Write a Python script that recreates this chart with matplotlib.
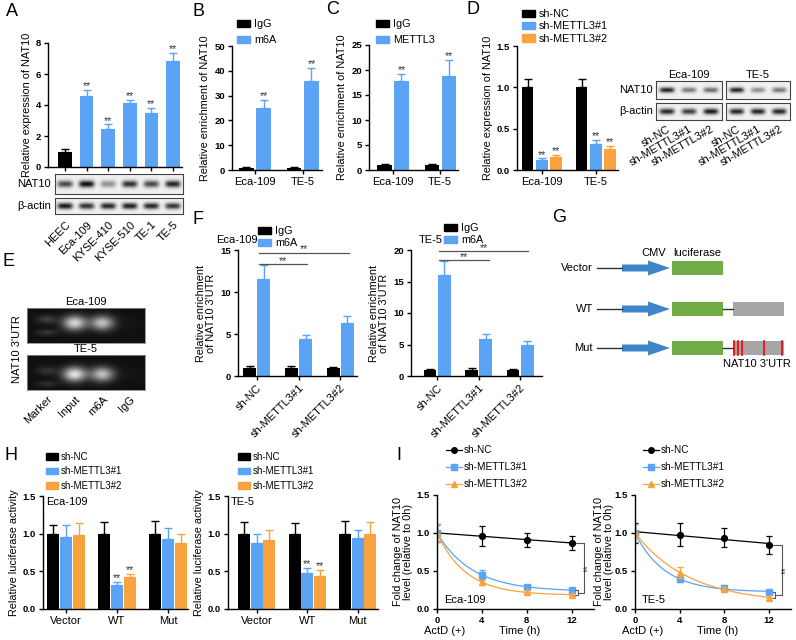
import numpy as np
import matplotlib
matplotlib.use('Agg')
import matplotlib.pyplot as plt
from matplotlib.patches import Rectangle, FancyArrow, Patch
from matplotlib.lines import Line2D
import matplotlib.transforms as mtransforms

plt.rcParams['font.family'] = ['Liberation Sans', 'DejaVu Sans']

W, H = 796, 640
fig = plt.figure(figsize=(W / 100, H / 100), dpi=100)

BLACK = '#000000'
BLUE = '#5BA3F5'
ORANGE = '#F9A33E'

# ---------------- data ----------------
# A
a_cells = ['HEEC', 'Eca-109', 'KYSE-410', 'KYSE-510', 'TE-1', 'TE-5']
a_vals = [1.0, 4.55, 2.45, 4.1, 3.5, 6.85]
a_err = [0.15, 0.45, 0.3, 0.25, 0.3, 0.5]
a_nat10_band = [0.7, 0.95, 0.4, 0.8, 0.7, 0.85]
a_actin_band = [0.9, 0.8, 0.85, 0.88, 0.85, 0.78]

# B / C
cells2 = ['Eca-109', 'TE-5']
b_igg = [1.0, 1.0]
b_igg_err = [0.15, 0.2]
b_m6a = [25.0, 36.0]
b_m6a_err = [3.2, 5.0]
c_igg = [1.0, 1.0]
c_igg_err = [0.15, 0.2]
c_mettl3 = [17.8, 18.8]
c_mettl3_err = [1.5, 3.2]

# D
sh_labels = ['sh-NC', 'sh-METTL3#1', 'sh-METTL3#2']
d_nc = [1.0, 1.0]
d_nc_err = [0.1, 0.1]
d_sh1 = [0.12, 0.32]
d_sh1_err = [0.02, 0.04]
d_sh2 = [0.16, 0.25]
d_sh2_err = [0.02, 0.04]
d_eca_nat10 = [0.85, 0.5, 0.55]
d_eca_actin = [0.85, 0.75, 0.9]
d_te5_nat10 = [0.85, 0.4, 0.5]
d_te5_actin = [0.85, 0.85, 0.85]

# E
e_lanes = ['Marker', 'Input', 'm6A', 'IgG']
e_eca_band = [0.2, 0.85, 0.75, 0.02]
e_te5_band = [0.16, 0.9, 0.75, 0.02]

# F
f_eca_igg = [1.0, 1.0, 1.0]
f_eca_igg_err = [0.2, 0.2, 0.1]
f_eca_m6a = [11.6, 4.35, 6.3]
f_eca_m6a_err = [1.6, 0.5, 0.8]
f_te5_igg = [1.0, 1.0, 1.0]
f_te5_igg_err = [0.15, 0.25, 0.1]
f_te5_m6a = [16.0, 5.9, 5.0]
f_te5_m6a_err = [2.2, 0.8, 0.55]

# G
g_constructs = ['Vector', 'WT', 'Mut']
g_has_utr = [False, True, True]
g_mut_sites = [0.02, 0.1, 0.18, 0.6, 0.96]

# H
h_constructs = ['Vector', 'WT', 'Mut']
h_eca_nc = [1.0, 1.0, 1.0]
h_eca_nc_err = [0.12, 0.15, 0.17]
h_eca_sh1 = [0.95, 0.32, 0.93]
h_eca_sh1_err = [0.16, 0.04, 0.15]
h_eca_sh2 = [0.98, 0.42, 0.88]
h_eca_sh2_err = [0.16, 0.05, 0.12]
h_te5_nc = [1.0, 1.0, 1.0]
h_te5_nc_err = [0.15, 0.14, 0.17]
h_te5_sh1 = [0.87, 0.48, 0.94]
h_te5_sh1_err = [0.13, 0.07, 0.11]
h_te5_sh2 = [0.92, 0.44, 1.0]
h_te5_sh2_err = [0.13, 0.08, 0.15]

# I
i_time = [0, 4, 8, 12]
i_eca_nc = [1.0, 0.96, 0.91, 0.87]
i_eca_nc_err = [0.12, 0.13, 0.09, 0.09]
i_eca_sh1 = [1.0, 0.45, 0.29, 0.25]
i_eca_sh1_err = [0.11, 0.06, 0.03, 0.02]
i_eca_sh2 = [1.0, 0.35, 0.23, 0.18]
i_eca_sh2_err = [0.12, 0.03, 0.02, 0.01]
i_te5_nc = [1.0, 0.98, 0.94, 0.84]
i_te5_nc_err = [0.13, 0.15, 0.13, 0.12]
i_te5_sh1 = [1.0, 0.39, 0.28, 0.22]
i_te5_sh1_err = [0.12, 0.04, 0.03, 0.02]
i_te5_sh2 = [1.0, 0.48, 0.26, 0.15]
i_te5_sh2_err = [0.12, 0.07, 0.03, 0.01]


# ---------------- helpers ----------------
def px_axes(x0, y0, x1, y1):
    return fig.add_axes([x0 / W, 1 - y1 / H, (x1 - x0) / W, (y1 - y0) / H])


def style_axes(ax, ytop, ystep, fmt='{:.0f}'):
    ax.set_ylim(0, ytop)
    ticks = np.arange(0, ytop + ystep / 2, ystep)
    ax.set_yticks(ticks)
    ax.set_yticklabels([fmt.format(t) for t in ticks], fontweight='bold', fontsize=6.8)
    for s in ['top', 'right']:
        ax.spines[s].set_visible(False)
    for s in ['left', 'bottom']:
        ax.spines[s].set_linewidth(1.0)
    ax.tick_params(axis='both', length=3, width=1.0, pad=2)
    ax.tick_params(axis='x', labelsize=8)


def bars(ax, xs, vals, errs, color, width):
    ax.bar(xs, vals, width, color=color, zorder=2)
    ax.errorbar(xs, vals, yerr=[np.zeros(len(vals)), errs], fmt='none', ecolor=color,
                elinewidth=1.0, capsize=3, capthick=1.0, zorder=1)


def stars(ax, xs, vals, errs, frac):
    top = ax.get_ylim()[1]
    for x, v, e in zip(xs, vals, errs):
        ax.text(x, v + e + frac * top, '**', ha='center', va='bottom', fontsize=7.5,
                color='#333333', linespacing=0.8)


def legend(x, y, handles, labels, fs, spacing, hl=1.2, hh=0.65, pad=0.35):
    fig.legend(handles, labels, loc='upper left', bbox_to_anchor=(x / W, 1 - y / H),
               bbox_transform=fig.transFigure, frameon=False, fontsize=fs,
               borderpad=0, borderaxespad=0, labelspacing=spacing,
               handlelength=hl, handleheight=hh, handletextpad=pad)


def band_image(intens, xr, yc=0.0, bh=0.4, lw=0.36, power=4):
    xs = np.linspace(xr[0], xr[1], 300)
    ys = np.linspace(1, -1, 80)
    X, Y = np.meshgrid(xs, ys)
    img = np.zeros_like(X)
    for i, v in enumerate(intens):
        img += v * np.exp(-np.abs((X - i) / lw) ** power) * np.exp(-((Y - yc) / bh) ** 2)
    return img


def panel(letter, x, y):
    fig.text(x / W, 1 - y / H, letter, fontsize=13, ha='left', va='center')


# ---------------- Panel A ----------------
axA = px_axes(48, 43, 182, 167)
xa = np.arange(len(a_cells))
style_axes(axA, 8, 2)
axA.set_xlim(-0.79, 5.42)
colA = [BLACK] + [BLUE] * 5
for x, v, e, c in zip(xa, a_vals, a_err, colA):
    bars(axA, [x], [v], [e], c, 0.63)
stars(axA, xa[1:], a_vals[1:], a_err[1:], -0.01)
axA.set_xticks(xa)
axA.set_xticklabels([])
axA.set_ylabel('Relative expression of NAT10', fontsize=7.8, labelpad=3)

xr = (-0.46, 5.46)
axAn = px_axes(55, 174, 183, 194)
axAn.imshow(band_image(a_nat10_band, xr, bh=0.35), cmap='gray_r', vmin=-0.06, vmax=1.0,
            extent=(xr[0], xr[1], -1, 1), aspect='auto')
axAb = px_axes(55, 198, 183, 214)
axAb.imshow(band_image(a_actin_band, xr, bh=0.4), cmap='gray_r', vmin=-0.06, vmax=1.0,
            extent=(xr[0], xr[1], -1, 1), aspect='auto')
for ax, lab in [(axAn, 'NAT10'), (axAb, 'β-actin')]:
    ax.set_yticks([])
    ax.set_xticks([])
    for s in ax.spines.values():
        s.set_linewidth(0.8)
        s.set_color('#444444')
    ax.text(-0.03, 0.5, lab, transform=ax.transAxes, ha='right', va='center', fontsize=8)
axAb.set_xticks(xa)
axAb.set_xticklabels(a_cells, rotation=45, ha='right', rotation_mode='anchor', fontsize=8)
axAb.tick_params(axis='x', length=0, pad=4)

# ---------------- Panel B ----------------
g2 = np.arange(2)
axB = px_axes(232, 46, 322, 170)
style_axes(axB, 50, 10)
axB.set_xlim(-0.48, 1.4)
bars(axB, g2 - 0.18, b_igg, b_igg_err, BLACK, 0.3)
bars(axB, g2 + 0.18, b_m6a, b_m6a_err, BLUE, 0.3)
stars(axB, g2 + 0.18, b_m6a, b_m6a_err, -0.01)
axB.set_xticks(g2)
axB.set_xticklabels(cells2)
axB.set_ylabel('Relative enrichment of NAT10', fontsize=7.8, labelpad=3)
legend(237, 19, [Patch(color=BLACK), Patch(color=BLUE)], ['IgG', 'm6A'], 7.8, 0.55)

# ---------------- Panel C ----------------
axC = px_axes(369, 45, 458, 170)
style_axes(axC, 25, 5)
axC.set_xlim(-0.51, 1.38)
bars(axC, g2 - 0.18, c_igg, c_igg_err, BLACK, 0.3)
bars(axC, g2 + 0.18, c_mettl3, c_mettl3_err, BLUE, 0.3)
stars(axC, g2 + 0.18, c_mettl3, c_mettl3_err, -0.01)
axC.set_xticks(g2)
axC.set_xticklabels(cells2)
axC.set_ylabel('Relative enrichment of NAT10', fontsize=7.8, labelpad=3)
legend(376, 19, [Patch(color=BLACK), Patch(color=BLUE)], ['IgG', 'METTL3'], 7.8, 0.55)

# ---------------- Panel D ----------------
axD = px_axes(517, 46, 618, 170)
style_axes(axD, 1.5, 0.5, '{:.1f}')
axD.set_xlim(-0.46, 1.41)
bars(axD, g2 - 0.26, d_nc, d_nc_err, BLACK, 0.21)
bars(axD, g2, d_sh1, d_sh1_err, BLUE, 0.21)
bars(axD, g2 + 0.26, d_sh2, d_sh2_err, ORANGE, 0.21)
stars(axD, g2, d_sh1, d_sh1_err, -0.01)
stars(axD, g2 + 0.26, d_sh2, d_sh2_err, -0.01)
axD.set_xticks(g2)
axD.set_xticklabels(cells2)
axD.set_ylabel('Relative expression of NAT10', fontsize=7.8, labelpad=3)
legend(522, 9, [Patch(color=BLACK), Patch(color=BLUE), Patch(color=ORANGE)], sh_labels, 7.8, 0.22)

xr3 = (-0.5, 2.5)
for (x0, x1, nat, act, title) in [(656, 722, d_eca_nat10, d_eca_actin, 'Eca-109'),
                                  (726, 790, d_te5_nat10, d_te5_actin, 'TE-5')]:
    axn = px_axes(x0, 81, x1, 99)
    axn.imshow(band_image(nat, xr3, bh=0.3, lw=0.34), cmap='gray_r', vmin=-0.06, vmax=1.0,
               extent=(xr3[0], xr3[1], -1, 1), aspect='auto')
    axb = px_axes(x0, 103, x1, 120)
    axb.imshow(band_image(act, xr3, bh=0.35, lw=0.34), cmap='gray_r', vmin=-0.06, vmax=1.0,
               extent=(xr3[0], xr3[1], -1, 1), aspect='auto')
    for ax in (axn, axb):
        ax.set_yticks([])
        ax.set_xticks([])
        for s in ax.spines.values():
            s.set_linewidth(0.8)
            s.set_color('#444444')
    axn.set_title(title, fontsize=8, pad=2)
    axb.set_xticks([0, 1, 2])
    axb.set_xticklabels(sh_labels, rotation=30, ha='right', rotation_mode='anchor', fontsize=8)
    axb.tick_params(axis='x', length=0, pad=3)
    if x0 == 656:
        axn.text(-0.05, 0.5, 'NAT10', transform=axn.transAxes, ha='right', va='center', fontsize=8)
        axb.text(-0.05, 0.5, 'β-actin', transform=axb.transAxes, ha='right', va='center', fontsize=8)

# ---------------- Panel E ----------------
xr4 = (-0.72, 3.54)
for (y0, y1, intens, title, yc) in [(308, 343, e_eca_band, 'Eca-109', 0.15),
                                    (355, 390, e_te5_band, 'TE-5', -0.1)]:
    ax = px_axes(27, y0, 145, y1)
    img = 0.07 + band_image(intens[1:], (xr4[0] - 1, xr4[1] - 1), yc=yc, bh=0.42, lw=0.42, power=2)
    img = img + band_image([intens[0]], xr4, yc=yc + 0.2, bh=0.25, lw=0.38, power=2)
    img = img + band_image([intens[0] * 0.8], xr4, yc=yc - 0.55, bh=0.18, lw=0.38, power=2)
    ax.imshow(img, cmap='gray', vmin=0, vmax=1.1, extent=(xr4[0], xr4[1], -1, 1), aspect='auto')
    ax.set_yticks([])
    ax.set_xticks([])
    for s in ax.spines.values():
        s.set_linewidth(0.6)
        s.set_color('#888888')
    ax.set_title(title, fontsize=8, pad=2)
    if title == 'TE-5':
        ax.set_xticks(range(4))
        ax.set_xticklabels(e_lanes, rotation=45, ha='right', rotation_mode='anchor', fontsize=8)
        ax.tick_params(axis='x', length=0, pad=3)
fig.text(17 / W, 1 - 349 / H, "NAT10 3'UTR", rotation=90, ha='center', va='center', fontsize=8)

# ---------------- Panel F ----------------
g3 = np.arange(3)


def f_panel(box, xlim, ytop, igg, igg_err, m6a, m6a_err, title, tx, sig):
    ax = px_axes(*box)
    style_axes(ax, ytop, 5)
    ax.set_xlim(*xlim)
    bars(ax, g3 - 0.17, igg, igg_err, BLACK, 0.31)
    bars(ax, g3 + 0.17, m6a, m6a_err, BLUE, 0.31)
    ax.set_xticks(g3)
    ax.set_xticklabels(sh_labels, rotation=45, ha='right', rotation_mode='anchor', fontsize=8)
    ax.set_ylabel("Relative enrichment\nof NAT10 3'UTR", fontsize=7.8, labelpad=3, linespacing=1.0)
    for (xe, yv) in sig:
        ax.plot([0.05, xe], [yv, yv], color='#555555', lw=0.9, clip_on=False)
        ax.text((0.05 + xe) / 2, yv - 0.012 * ytop, '**', ha='center', va='bottom', fontsize=7.5,
                color='#333333')
    ax.text(tx, 1.08, title, transform=ax.transAxes, fontsize=8, ha='left', va='center')
    return ax


f_panel((238, 250, 357, 376), (-0.45, 2.4), 15, f_eca_igg, f_eca_igg_err, f_eca_m6a,
        f_eca_m6a_err, 'Eca-109', -0.18, [(1.2, 13.3), (2.2, 14.7)])
legend(258, 226, [Patch(color=BLACK), Patch(color=BLUE)], ['IgG', 'm6A'], 7.8, 0.2)
f_panel((411, 250, 542, 376), (-0.63, 2.53), 20, f_te5_igg, f_te5_igg_err, f_te5_m6a,
        f_te5_m6a_err, 'TE-5', 0.06, [(1.25, 18.4), (2.2, 19.8)])
legend(444, 223, [Patch(color=BLACK), Patch(color=BLUE)], ['IgG', 'm6A'], 7.8, 0.2)

# ---------------- Panel G ----------------
axG = px_axes(560, 235, 796, 380)
axG.set_xlim(560, 796)
axG.set_ylim(380, 235)
axG.axis('off')
g_y = [268, 309, 348]
for name, y, utr in zip(g_constructs, g_y, g_has_utr):
    axG.text(593, y, name, ha='right', va='center', fontsize=8)
    axG.plot([597, 622], [y, y], color='#333333', lw=1.0)
    axG.add_patch(FancyArrow(622, y, 48, 0, width=7, head_width=15, head_length=22,
                             length_includes_head=True, color='#3F86C8', lw=0))
    axG.add_patch(Rectangle((672, y - 7), 51, 14, color='#70AD47', lw=0))
    if utr:
        axG.plot([723, 733], [y, y], color='#333333', lw=1.0)
        axG.add_patch(Rectangle((733, y - 7), 51, 14, color='#A6A6A6', lw=0))
for s in g_mut_sites:
    axG.plot([733 + 51 * s, 733 + 51 * s], [g_y[2] - 7, g_y[2] + 7], color='#FF0000', lw=1.2)
axG.text(654, 253, 'CMV', ha='center', va='center', fontsize=8)
axG.text(697, 253, 'luciferase', ha='center', va='center', fontsize=8)
axG.text(757, 364, "NAT10 3'UTR", ha='center', va='center', fontsize=8)


# ---------------- Panel H ----------------
def h_panel(box, xlim, nc, nc_err, s1, s1_err, s2, s2_err, title, ylab):
    ax = px_axes(*box)
    style_axes(ax, 1.5, 0.5, '{:.1f}')
    ax.set_xlim(*xlim)
    bars(ax, g3 - 0.25, nc, nc_err, BLACK, 0.24)
    bars(ax, g3, s1, s1_err, BLUE, 0.24)
    bars(ax, g3 + 0.25, s2, s2_err, ORANGE, 0.24)
    stars(ax, [1], [s1[1]], [s1_err[1]], -0.01)
    stars(ax, [1.25], [s2[1]], [s2_err[1]], -0.01)
    ax.set_xticks(g3)
    ax.set_xticklabels(h_constructs)
    ax.set_ylabel(ylab, fontsize=7.8, labelpad=3)
    ax.text(0.02, 0.95, title, transform=ax.transAxes, fontsize=8, ha='left', va='center')
    return ax


h_panel((43, 496, 188, 609), (-0.45, 2.39), h_eca_nc, h_eca_nc_err, h_eca_sh1, h_eca_sh1_err,
        h_eca_sh2, h_eca_sh2_err, 'Eca-109', 'Relative luciferase activity')
legend(46, 452, [Patch(color=BLACK), Patch(color=BLUE), Patch(color=ORANGE)], sh_labels, 7.0, 0.45)
h_panel((228, 496, 378, 609), (-0.57, 2.4), h_te5_nc, h_te5_nc_err, h_te5_sh1, h_te5_sh1_err,
        h_te5_sh2, h_te5_sh2_err, 'TE-5', 'Relative luciferase activity')
legend(238, 452, [Patch(color=BLACK), Patch(color=BLUE), Patch(color=ORANGE)], sh_labels, 7.0, 0.45)


# ---------------- Panel I ----------------
def decay_fit(t, y):
    t = np.asarray(t, float)
    y = np.asarray(y, float)
    best = None
    for k in np.linspace(0.01, 2.0, 800):
        X = np.column_stack([np.ones_like(t), np.exp(-k * t)])
        coef = np.linalg.lstsq(X, y, rcond=None)[0]
        r = np.sum((X @ coef - y) ** 2)
        if best is None or r < best[0]:
            best = (r, k, coef)
    return best[1], best[2]


def i_panel(box, nc, nc_err, s1, s1_err, s2, s2_err, title, lpad):
    ax = px_axes(*box)
    style_axes(ax, 1.5, 0.5, '{:.1f}')
    ax.set_xlim(0, 14)
    ax.set_xticks(i_time)
    ax.set_xticklabels([str(t) for t in i_time], fontweight='bold', fontsize=6.8)
    t = np.asarray(i_time, float)
    tt = np.linspace(0, 12, 200)
    p = np.polyfit(t, nc, 1)
    ax.plot(tt, np.polyval(p, tt), color=BLACK, lw=0.9)
    for vals, c in [(s1, BLUE), (s2, ORANGE)]:
        k, coef = decay_fit(t, vals)
        ax.plot(tt, coef[0] + coef[1] * np.exp(-k * tt), color=c, lw=0.9)
    for vals, errs, c, m in [(nc, nc_err, BLACK, 'o'), (s1, s1_err, BLUE, 's'),
                             (s2, s2_err, ORANGE, '^')]:
        ax.errorbar(t, vals, yerr=errs, fmt='none', ecolor=c, elinewidth=0.9, capsize=2.5,
                    capthick=0.9)
        ax.plot(t, vals, ls='none', marker=m, color=c, ms=4.2)
    lo, hi = s2[-1], s1[-1]
    mid = (lo + hi) / 2
    bc = '#555555'
    ax.plot([12.35, 12.6, 12.6, 12.35], [lo, lo, hi, hi], color=bc, lw=0.8, clip_on=False)
    ax.plot([12.4, 13.15, 13.15, 12.6], [nc[-1], nc[-1], mid, mid], color=bc, lw=0.8, clip_on=False)
    ax.text(13.5, (nc[-1] + mid) / 2, '**', rotation=90, ha='center', va='center', fontsize=7,
            color='#333333')
    ax.set_ylabel('Fold change of NAT10\nlevel (relative to 0h)', fontsize=7.8, labelpad=lpad,
                  linespacing=0.95)
    tr = mtransforms.blended_transform_factory(ax.transData, ax.transAxes)
    ax.text(0.7, -0.19, 'ActD (+)', transform=tr, ha='center', va='center', fontsize=8)
    ax.text(7.4, -0.19, 'Time (h)', transform=tr, ha='center', va='center', fontsize=8)
    ax.text(0.045, 0.08, title, transform=ax.transAxes, fontsize=8, ha='left', va='center')
    return ax


i_panel((437, 495, 594, 609), i_eca_nc, i_eca_nc_err, i_eca_sh1, i_eca_sh1_err, i_eca_sh2,
        i_eca_sh2_err, 'Eca-109', 3)
i_handles = [Line2D([], [], color=BLACK, marker='o', ms=4, lw=0.9),
             Line2D([], [], color=BLUE, marker='s', ms=4, lw=0.9),
             Line2D([], [], color=ORANGE, marker='^', ms=4, lw=0.9)]
legend(446, 445, i_handles, sh_labels, 7.2, 0.7, hl=1.6, pad=0.2)
i_panel((635, 495, 791, 609), i_te5_nc, i_te5_nc_err, i_te5_sh1, i_te5_sh1_err, i_te5_sh2,
        i_te5_sh2_err, 'TE-5', 0.5)
legend(643, 445, i_handles, sh_labels, 7.2, 0.7, hl=1.6, pad=0.2)

# ---------------- panel letters ----------------
panel('A', 6, 11)
panel('B', 193, 11)
panel('C', 326, 10)
panel('D', 467, 9)
panel('E', 3, 262)
panel('F', 192, 219)
panel('G', 552, 217)
panel('H', 5, 455)
panel('I', 396, 455)

fig.savefig('out.png', dpi=100)
